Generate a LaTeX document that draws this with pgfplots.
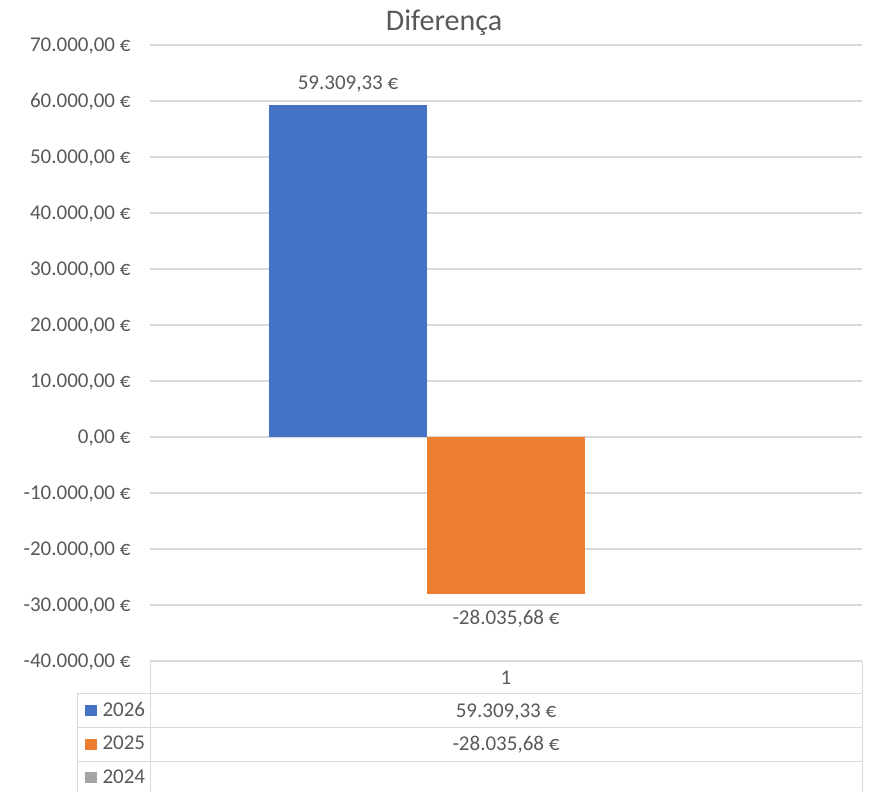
\documentclass[border=0pt]{standalone}
\usepackage{pgfplots}
\pgfplotsset{compat=1.18}
\usepackage{fontspec}
\setmainfont{Carlito}
\definecolor{txt}{HTML}{595959}
\definecolor{gridc}{HTML}{D9D9D9}
\definecolor{c26}{HTML}{4472C4}
\definecolor{c25}{HTML}{ED7D31}
\definecolor{c24}{HTML}{A5A5A5}
\newcommand{\lbl}{\fontsize{21}{25}\selectfont}
\begin{document}
\begin{tikzpicture}
\useasboundingbox (0,0) rectangle (870pt,-792pt);
\begin{axis}[
  at={(150pt,-661pt)}, anchor=south west,
  scale only axis, width=712pt, height=616pt,
  xmin=0.5, xmax=1.5, ymin=-40000, ymax=70000,
  ytick={-40000,-30000,...,70000},
  xtick=\empty,
  scaled y ticks=false,
  axis line style={draw=none},
  tick style={draw=none},
  major tick length=0pt,
  ymajorgrids, grid style={gridc, line width=1.5pt},
  /pgf/number format/fixed,
  /pgf/number format/fixed zerofill,
  /pgf/number format/precision=2,
  /pgf/number format/use comma,
  /pgf/number format/1000 sep={.},
  /pgf/number format/assume math mode=true,
  yticklabel={\pgfmathprintnumber{\tick}~€},
  yticklabel style={font=\lbl, text=txt, anchor=base east, inner sep=0pt, xshift=-19.3pt, yshift=-6.6pt},
  ybar, bar width=0.2219,
  clip=false,
  nodes near coords={\pgfmathprintnumber{\pgfplotspointmeta}~€},
]
\addplot[fill=c26, draw=none, bar shift=-0.2219,
  every node near coord/.append style={font=\lbl, text=txt, anchor=base, inner sep=0pt, yshift=15.6pt}]
  coordinates {(1,59309.33)};
\addplot[fill=c25, draw=none, bar shift=0,
  every node near coord/.append style={font=\lbl, text=txt, anchor=base, inner sep=0pt, yshift=-30.3pt}]
  coordinates {(1,-28035.68)};
\end{axis}
% title
\node[anchor=base, font=\fontsize{30}{36}\selectfont, text=txt, inner sep=0pt] at (444pt,-30.5pt) {Diferença};
% data table
\begin{scope}[gridc, line width=1.5pt]
\draw (150.7pt,-661.3pt) -- (862.7pt,-661.3pt);
\draw (77.7pt,-693.3pt) -- (862.7pt,-693.3pt);
\draw (77.7pt,-727.3pt) -- (862.7pt,-727.3pt);
\draw (77.7pt,-761.3pt) -- (862.7pt,-761.3pt);
\draw (77.7pt,-693.3pt) -- (77.7pt,-792pt);
\draw (150.7pt,-661.3pt) -- (150.7pt,-792pt);
\draw (862.7pt,-661.3pt) -- (862.7pt,-792pt);
\end{scope}
\begin{scope}[every node/.style={font=\lbl, text=txt, inner sep=0pt}]
\node[anchor=base] at (506pt,-684.5pt) {1};
\node[anchor=base] at (506pt,-717pt) {59.309,33~€};
\node[anchor=base] at (506pt,-750pt) {-28.035,68~€};
\fill[c26] (85pt,-705pt) rectangle (96.7pt,-716.3pt);
\fill[c25] (85pt,-738.5pt) rectangle (96.7pt,-749.8pt);
\fill[c24] (85pt,-772pt) rectangle (96.7pt,-783.3pt);
\node[anchor=base west] at (102.3pt,-716.3pt) {2026};
\node[anchor=base west] at (102.3pt,-749.8pt) {2025};
\node[anchor=base west] at (102.3pt,-783.3pt) {2024};
\end{scope}
\end{tikzpicture}
\end{document}
